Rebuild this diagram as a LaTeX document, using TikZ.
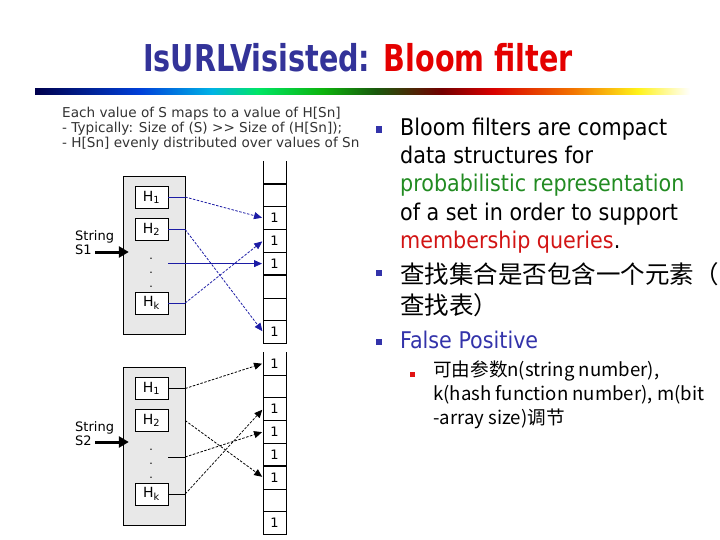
\documentclass[tikz,border=0pt]{standalone}
\usepackage{graphicx}
\usepackage{fontspec}
\setmainfont{DejaVu Sans}
\newfontfamily\condfont{DejaVu Sans Condensed}
\newfontfamily\cjkfont{Noto Sans CJK SC}
\usetikzlibrary{arrows.meta,positioning}
\definecolor{titleblue}{RGB}{51,51,153}
\definecolor{titlered}{RGB}{228,0,0}
\definecolor{probgreen}{RGB}{34,139,34}
\definecolor{memred}{RGB}{210,20,20}
\definecolor{linkblue}{RGB}{28,28,165}
\definecolor{hashgray}{RGB}{232,232,232}
\definecolor{bulletblue}{RGB}{51,51,170}
\definecolor{subred}{RGB}{225,20,20}
\pgfdeclarehorizontalshading{rainbowrule}{100bp}{rgb(0bp)=(0,0,0.3); rgb(25bp)=(0,0,0.3);
  rgb(33bp)=(0,0.25,0.85); rgb(38.5bp)=(0,0.7,0.9); rgb(42bp)=(0,0.9,0.4);
  rgb(47bp)=(0.05,0.7,0.05); rgb(51bp)=(0.1,0.35,0.05); rgb(56bp)=(0.45,0,0);
  rgb(60bp)=(0.85,0,0); rgb(66bp)=(0.95,0.45,0); rgb(71bp)=(1,0.95,0.1);
  rgb(75bp)=(1,1,1); rgb(100bp)=(1,1,1)}
\tikzset{
    notetext/.style={align=left, inner sep=0pt, anchor=north west, text=black!80,
        font=\fontsize{13.6}{15}\selectfont},
    hashbox/.style={draw, fill=hashgray, minimum width=62pt, minimum height=158pt},
    hbox/.style={draw, fill=white, minimum width=33pt, minimum height=22pt, inner sep=0pt,
        font=\fontsize{14}{16}\selectfont},
    dotcol/.style={align=center, inner sep=0pt, font=\fontsize{11}{14}\selectfont},
    strlabel/.style={align=left, inner sep=0pt, anchor=north west, font=\fontsize{13}{14}\selectfont},
    bitcell/.style={draw, minimum width=23pt, minimum height=22.8pt, inner sep=0pt, outer sep=0pt,
        font=\fontsize{13}{15}\selectfont},
    opencell/.style={bitcell, draw=none},
    sepline/.style={line width=1.6pt},
    strarrow/.style={-{Triangle[length=10pt,width=11pt]}, line width=3pt, shorten >=-6pt},
    bluelink/.style={linkblue, line width=0.8pt},
    bluedash/.style={bluelink, dash pattern=on 2.5pt off 1.5pt, -{Triangle[length=8pt,width=7pt]}, shorten >=1pt},
    blacklink/.style={black, line width=0.8pt},
    blackdash/.style={blacklink, dash pattern=on 2.5pt off 1.5pt, -{Triangle[length=8pt,width=7pt]}, shorten >=1pt},
    bullettext/.style={align=left, inner sep=0pt, anchor=north west,
        font=\condfont\fontsize{23}{28.3}\selectfont},
    bulletsq/.style={fill=bulletblue, minimum size=6.5pt, inner sep=0pt},
    subsq/.style={fill=subred, minimum size=5pt, inner sep=0pt}
}
\begin{document}
\begin{tikzpicture}[x=1pt,y=-1pt]
\useasboundingbox (0,0) rectangle (720,540);
% title and coloured rule
\node[anchor=base, font=\condfont\bfseries\fontsize{37}{40}\selectfont] (title) at (358,72)
    {\scalebox{0.86}[1]{\textcolor{titleblue}{IsURLVisisted:} \textcolor{titlered}{Bloom filter}}};
\shade[shading=rainbowrule] (35,89) rectangle (690,95);
% notes above the figure
\node[notetext] (notes) at (62,106.5) {\strut Each value of S maps to a value of H[Sn]\\
    - Typically: Size of (S) >{}> Size of (H[Sn]);\\
    - H[Sn] evenly distributed over values of Sn};
% hash functions for string S1
\node[hashbox] (hashA) at (154,255) {};
\node[hbox] (h1A) at (151.5,197) {H\textsubscript{1}};
\node[hbox] (h2A) at (151.5,229.5) {H\textsubscript{2}};
\node[dotcol] (dotsA) at (151,273) {.\\.\\.};
\node[hbox] (hkA) at (151.5,303) {H\textsubscript{k}};
\node[strlabel] (strA) at (75,230) {\strut String\\S1};
\coordinate (inA) at (95,252);
\draw[strarrow] (inA) -- (hashA.west |- inA);
% bit array, upper part
\node[opencell] (bA1) at (274.5,172.4) {};
\node[bitcell, below=0pt of bA1] (bA2) {};
\node[bitcell, below=0pt of bA2] (bA3) {1};
\node[bitcell, below=0pt of bA3] (bA4) {1};
\node[bitcell, below=0pt of bA4] (bA5) {1};
\node[bitcell, below=0pt of bA5] (bA6) {};
\node[bitcell, below=0pt of bA6] (bA7) {};
\node[bitcell, below=0pt of bA7] (bA8) {1};
\draw (bA1.north west) -- (bA1.south west) -- (bA1.south east) -- (bA1.north east);
\draw[sepline] (bA1.south west) -- (bA1.south east);
\draw[sepline] (bA2.south west) -- (bA2.south east);
\draw[sepline] (bA5.south west) -- (bA5.south east);
% links for S1
\draw[bluelink] (h1A.east) -- (h1A.east -| hashA.east);
\draw[bluedash] (h1A.east -| hashA.east) -- (bA3.west);
\draw[bluelink] (h2A.east) -- (h2A.east -| hashA.east);
\draw[bluedash] (h2A.east -| hashA.east) -- (bA8.west);
\draw[bluelink, -{Triangle[length=8pt,width=7pt]}, shorten >=1pt] (h1A.east |- bA5.west) -- (bA5.west);
\draw[bluelink] (hkA.east) -- (hkA.east -| hashA.east);
\draw[bluedash] (hkA.east -| hashA.east) -- (bA4.west);
% hash functions for string S2
\node[hashbox] (hashB) at (154,446) {};
\node[hbox] (h1B) at (151.5,388.5) {H\textsubscript{1}};
\node[hbox] (h2B) at (151.5,420.5) {H\textsubscript{2}};
\node[dotcol] (dotsB) at (151,464) {.\\.\\.};
\node[hbox] (hkB) at (151.5,494) {H\textsubscript{k}};
\node[strlabel] (strB) at (75,421) {\strut String\\S2};
\coordinate (inB) at (95,442);
\draw[strarrow] (inB) -- (hashB.west |- inB);
% bit array, lower part
\node[opencell] (bB1) at (274.5,363.4) {1};
\node[bitcell, below=0pt of bB1] (bB2) {};
\node[bitcell, below=0pt of bB2] (bB3) {1};
\node[bitcell, below=0pt of bB3] (bB4) {1};
\node[bitcell, below=0pt of bB4] (bB5) {1};
\node[bitcell, below=0pt of bB5] (bB6) {1};
\node[bitcell, below=0pt of bB6] (bB7) {};
\node[bitcell, below=0pt of bB7] (bB8) {1};
\draw (bB1.north west) -- (bB1.south west) -- (bB1.south east) -- (bB1.north east);
\draw[sepline] (bB2.south west) -- (bB2.south east);
\draw[sepline] (bB3.south west) -- (bB3.south east);
\draw[sepline] (bB5.south west) -- (bB5.south east);
% links for S2
\coordinate (dotoutB) at (168,457);
\draw[blacklink] (h1B.east) -- (h1B.east -| hashB.east);
\draw[blackdash] (h1B.east -| hashB.east) -- (bB1.west);
\draw[blackdash] (h2B.east -| hashB.east) -- (bB6.west);
\draw[blacklink] (dotoutB) -- (dotoutB -| hashB.east);
\draw[blackdash] (dotoutB -| hashB.east) -- (bB4.west);
\draw[blacklink] (hkB.east) -- (hkB.east -| hashB.east);
\draw[blackdash] (hkB.east -| hashB.east) -- (bB3.west);
% bullet list
\node[bulletsq] (bul1) at (379,129.5) {};
\node[bullettext] (item1) at (400,115.2) {\strut Bloom filters are compact\\
    data structures for\\
    \textcolor{probgreen}{probabilistic representation}\\
    of a set in order to support\\
    \textcolor{memred}{membership queries}.};
\node[bulletsq] (bul2) at (379,273) {};
\node[bullettext, font=\cjkfont\fontsize{24.5}{29}\selectfont] (item2) at (400,262.7)
    {\strut 查找集合是否包含一个元素（\\查找表）};
\node[bulletsq] (bul3) at (379,342) {};
\node[bullettext, text=bulletblue] (item3) at (400,328.2) {\strut False Positive};
\node[subsq] (sub1) at (412.5,374.5) {};
\node[bullettext, font=\cjkfont\fontsize{18.6}{24}\selectfont] (subitem) at (433,359.2)
    {\strut 可由参数n(string number),\\k(hash function number), m(bit\\-array size)调节};
\end{tikzpicture}
\end{document}
